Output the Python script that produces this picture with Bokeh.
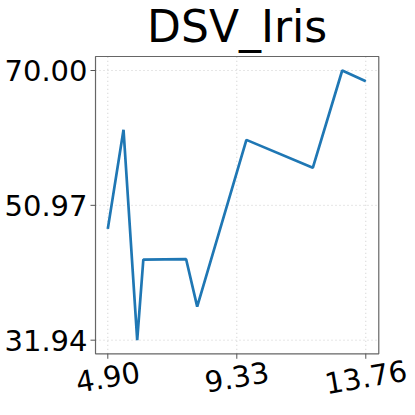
from bokeh.plotting import figure
from bokeh.models import Range1d
from bokeh.core.properties import value
from bokeh.embed import file_html
from bokeh.resources import INLINE

x_vals = [4.90, 5.44, 5.91, 6.12, 7.59, 7.97, 9.66, 11.94, 12.95, 13.76]
y_vals = [47.65, 61.63, 31.94, 43.32, 43.37, 36.68, 60.21, 56.26, 70.00, 68.49]
x_ticks = [4.90, 9.33, 13.76]
y_ticks = [31.94, 50.97, 70.00]
x_tick_labels = ["4.90", "9.33", "13.76"]
y_tick_labels = ["31.94", "50.97", "70.00"]
title_text = "DSV_Iris"

# scales: pixels per data unit; visible plot box in data units
px_per_x = 29.12
px_per_y = 7.086
box_l, box_r, box_b, box_t = 4.478, 14.206, 30.02, 71.98
x_start, x_end = 1.215, 15.467
y_start, y_end = 21.31, 79.88

p = figure(width=415, height=415, output_backend="svg", toolbar_location=None,
           x_range=Range1d(x_start, x_end), y_range=Range1d(y_start, y_end),
           x_axis_location=None, y_axis_location=None,
           min_border_left=0, min_border_right=0, min_border_top=0, min_border_bottom=0)
p.outline_line_color = None
p.grid.visible = False

grid_style = dict(line_color="#cccccc", line_dash="1 3", line_width=1)
tick_style = dict(line_color="#555555", line_width=1)
label_style = dict(text_font=value("DejaVu Sans"), text_font_size=value("29px"),
                   text_color="black")

# grid lines inside the box
p.segment(x0=x_ticks, y0=[box_b] * 3, x1=x_ticks, y1=[box_t] * 3, **grid_style)
p.segment(x0=[box_l] * 3, y0=y_ticks, x1=[box_r] * 3, y1=y_ticks, **grid_style)

# data line
p.line(x_vals, y_vals, line_color="#1f77b4", line_width=2.7)

# box outline
p.quad(left=[box_l], right=[box_r], bottom=[box_b], top=[box_t],
       fill_color=None, line_color="#666666", line_width=1.2)

# x ticks and rotated labels
p.segment(x0=x_ticks, y0=[box_b] * 3, x1=x_ticks, y1=[box_b - 5 / px_per_y] * 3, **tick_style)
p.text(x=x_ticks, y=[26.75] * 3, text=x_tick_labels, angle=0.17,
       text_align="center", text_baseline="middle", **label_style)

# y ticks and labels
p.segment(x0=[box_l] * 3, y0=y_ticks, x1=[box_l - 5 / px_per_x] * 3, y1=y_ticks, **tick_style)
p.text(x=[4.203] * 3, y=y_ticks, text=y_tick_labels,
       text_align="right", text_baseline="middle", **label_style)

# title
p.text(x=[(box_l + box_r) / 2], y=[76.28], text=[title_text],
       text_align="center", text_baseline="alphabetic",
       text_font=value("DejaVu Sans"), text_font_size=value("44px"), text_color="black")

open("out.html", "w").write(file_html(p, INLINE))
